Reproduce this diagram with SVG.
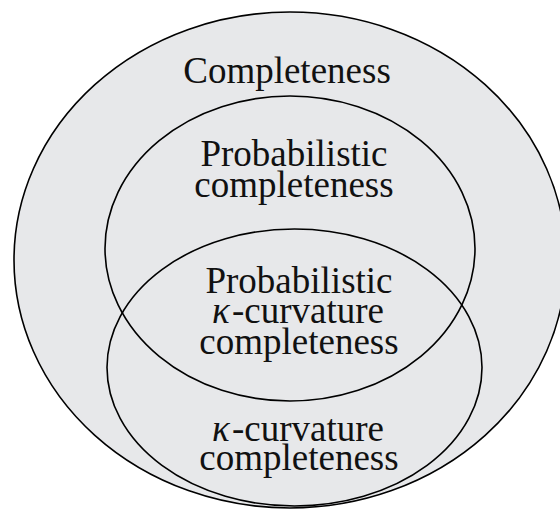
<svg xmlns="http://www.w3.org/2000/svg" width="560" height="509" viewBox="0 0 560 509">
<style>
.set{fill:none;stroke:#000;stroke-width:1.6}
.lbl{font-family:"Liberation Serif","Times New Roman",serif;font-size:37px;fill:#111;text-anchor:middle}
.st{font-family:"Liberation Serif","Times New Roman",serif;font-size:37px;fill:#111;text-anchor:start}
.k{font-style:italic}
</style>
<rect width="560" height="509" fill="#fff"/>
<g id="completeness">
<ellipse cx="290" cy="260" rx="276" ry="248" fill="#e7e8ea" stroke="#000" stroke-width="1.6"/>
<text class="lbl" x="287" y="83">Completeness</text>
</g>
<g id="probabilistic-completeness">
<ellipse class="set" cx="290" cy="248.5" rx="185" ry="152.5"/>
<text class="lbl" x="294" y="166">Probabilistic</text>
<text class="lbl" x="294" y="197">completeness</text>
</g>
<g id="kappa-curvature-completeness">
<ellipse class="set" cx="294.5" cy="367.5" rx="187.5" ry="138.5"/>
<text class="st k" x="212" y="441">κ</text>
<text class="st" x="232" y="441">-curvature</text>
<text class="lbl" x="299" y="470">completeness</text>
</g>
<g id="probabilistic-kappa-curvature-completeness">
<text class="lbl" x="299" y="293">Probabilistic</text>
<text class="st k" x="212" y="323">κ</text>
<text class="st" x="232" y="323">-curvature</text>
<text class="lbl" x="299" y="354">completeness</text>
</g>
<g id="connectors"/>
</svg>
